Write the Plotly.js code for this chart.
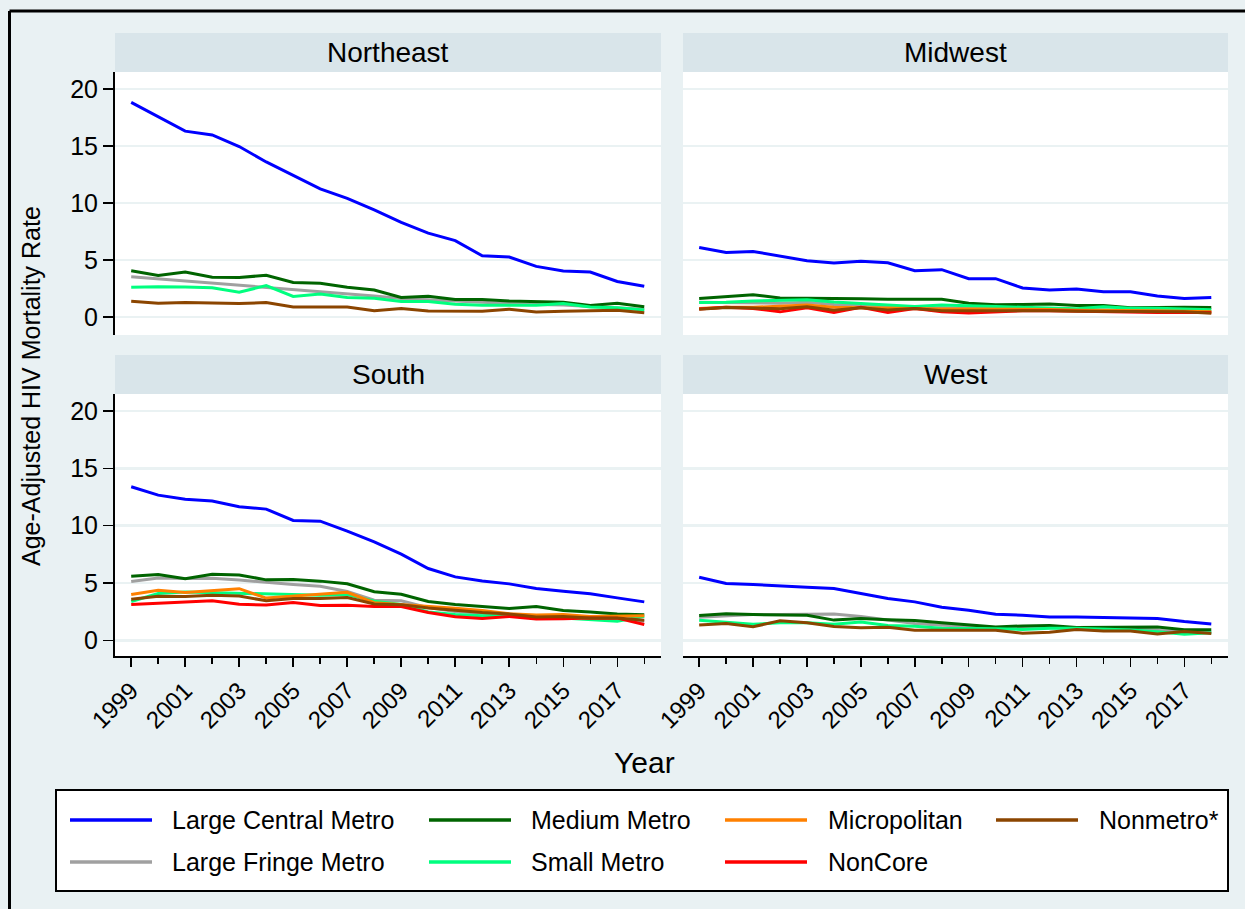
<!DOCTYPE html>
<html>
<head>
<meta charset="utf-8">
<script src="https://cdn.plot.ly/plotly-3.0.1.min.js"></script>
<style>
  html, body { margin: 0; padding: 0; background: #E9F1F3; }
  #chart { width: 1245px; height: 909px; }
</style>
</head>
<body>
<div id="chart"></div>
<script>
// ---------------- DATA ----------------
const years = [1999, 2000, 2001, 2002, 2003, 2004, 2005, 2006, 2007, 2008, 2009, 2010, 2011, 2012, 2013, 2014, 2015, 2016, 2017, 2018];

const seriesNames  = ['Large Central Metro', 'Large Fringe Metro', 'Medium Metro', 'Small Metro', 'Micropolitan', 'NonCore', 'Nonmetro*'];
const seriesColors = ['#0000FF', '#A0A0A0', '#006400', '#00FF7F', '#FF8000', '#FF0000', '#8B4500'];

const regionNames = ['Northeast', 'Midwest', 'South', 'West'];

// Northeast
const northeastLargeCentral = [18.83, 17.6, 16.3, 15.97, 14.95, 13.6, 12.45, 11.24, 10.4, 9.4, 8.3, 7.36, 6.7, 5.37, 5.26, 4.44, 4.03, 3.94, 3.12, 2.69];
const northeastLargeFringe  = [3.53, 3.35, 3.15, 2.97, 2.78, 2.6, 2.42, 2.25, 2.05, 1.85, 1.62, 1.5, 1.38, 1.28, 1.18, 1.1, 1.05, 0.92, 0.82, 0.68];
const northeastMedium       = [4.05, 3.65, 3.95, 3.48, 3.46, 3.66, 3.02, 2.95, 2.61, 2.37, 1.72, 1.81, 1.54, 1.54, 1.4, 1.33, 1.3, 1.01, 1.2, 0.89];
const northeastSmall        = [2.6, 2.65, 2.63, 2.57, 2.18, 2.75, 1.8, 2.02, 1.72, 1.64, 1.35, 1.36, 1.12, 1.02, 1.02, 1.04, 1.19, 0.87, 0.8, 0.62];
const northeastNonmetro     = [1.38, 1.2, 1.26, 1.24, 1.18, 1.27, 0.88, 0.88, 0.88, 0.55, 0.75, 0.52, 0.52, 0.5, 0.68, 0.43, 0.5, 0.57, 0.6, 0.38];

// Midwest
const midwestLargeCentral = [6.1, 5.66, 5.75, 5.37, 4.93, 4.73, 4.88, 4.76, 4.06, 4.15, 3.36, 3.36, 2.54, 2.36, 2.45, 2.22, 2.22, 1.84, 1.63, 1.72];
const midwestLargeFringe  = [1.3, 1.25, 1.2, 1.2, 1.3, 1.1, 1.05, 0.95, 0.8, 0.8, 0.75, 0.75, 0.7, 0.7, 0.65, 0.65, 0.6, 0.6, 0.55, 0.5];
const midwestMedium       = [1.63, 1.81, 1.95, 1.66, 1.66, 1.6, 1.6, 1.55, 1.55, 1.55, 1.21, 1.08, 1.1, 1.14, 1.0, 1.01, 0.82, 0.86, 0.85, 0.83];
const midwestSmall        = [1.28, 1.3, 1.4, 1.46, 1.52, 1.31, 1.17, 1.08, 0.93, 1.05, 1.02, 0.93, 0.85, 0.82, 0.73, 0.9, 0.76, 0.76, 0.7, 0.64];
const midwestMicropolitan = [0.75, 0.85, 0.85, 0.95, 1.05, 0.85, 0.8, 0.8, 0.75, 0.7, 0.7, 0.7, 0.65, 0.65, 0.6, 0.6, 0.55, 0.55, 0.5, 0.45];
const midwestNonCore      = [0.7, 0.85, 0.75, 0.45, 0.8, 0.4, 0.85, 0.4, 0.75, 0.45, 0.35, 0.45, 0.55, 0.55, 0.5, 0.5, 0.45, 0.4, 0.4, 0.4];
const midwestNonmetro     = [0.68, 0.83, 0.78, 0.72, 0.9, 0.6, 0.82, 0.62, 0.75, 0.55, 0.55, 0.55, 0.6, 0.55, 0.5, 0.5, 0.5, 0.45, 0.45, 0.33];

// South
const southLargeCentral = [13.39, 12.66, 12.31, 12.14, 11.64, 11.44, 10.45, 10.39, 9.52, 8.59, 7.51, 6.26, 5.53, 5.18, 4.92, 4.51, 4.28, 4.05, 3.7, 3.35];
const southLargeFringe  = [5.12, 5.44, 5.38, 5.4, 5.25, 5.05, 4.87, 4.72, 4.25, 3.5, 3.45, 2.85, 2.5, 2.35, 2.2, 2.1, 2.0, 1.95, 1.85, 1.65];
const southMedium       = [5.58, 5.73, 5.36, 5.76, 5.7, 5.27, 5.31, 5.16, 4.93, 4.23, 4.01, 3.38, 3.12, 2.94, 2.78, 2.95, 2.6, 2.46, 2.3, 2.22];
const southSmall        = [3.38, 4.08, 4.22, 4.16, 4.1, 4.05, 3.93, 3.93, 3.99, 3.4, 3.12, 2.47, 2.24, 2.13, 2.13, 1.95, 1.95, 1.83, 1.66, 2.1];
const southMicropolitan = [3.99, 4.37, 4.16, 4.3, 4.5, 3.68, 3.84, 4.06, 4.19, 3.28, 3.14, 2.98, 2.8, 2.6, 2.31, 2.21, 2.25, 2.07, 2.1, 2.14];
const southNonCore      = [3.12, 3.23, 3.38, 3.45, 3.14, 3.07, 3.3, 3.03, 3.06, 2.95, 2.95, 2.42, 2.05, 1.89, 2.08, 1.86, 1.87, 1.95, 1.93, 1.37];
const southNonmetro     = [3.58, 3.84, 3.81, 3.93, 3.87, 3.44, 3.64, 3.64, 3.73, 3.17, 3.11, 2.82, 2.62, 2.42, 2.3, 2.04, 2.07, 1.95, 1.95, 1.75];

// West
const westLargeCentral = [5.5, 4.95, 4.86, 4.72, 4.63, 4.51, 4.08, 3.64, 3.35, 2.88, 2.62, 2.27, 2.18, 2.04, 2.04, 2.01, 1.98, 1.89, 1.63, 1.43];
const westLargeFringe  = [2.0, 2.1, 2.24, 2.24, 2.24, 2.3, 2.07, 1.78, 1.46, 1.31, 1.25, 1.1, 1.1, 1.1, 1.02, 1.02, 0.96, 0.85, 0.73, 0.67];
const westMedium       = [2.16, 2.32, 2.24, 2.24, 2.18, 1.76, 1.9, 1.8, 1.72, 1.53, 1.37, 1.17, 1.25, 1.3, 1.12, 1.12, 1.12, 1.16, 0.93, 0.93];
const westSmall        = [1.74, 1.59, 1.4, 1.52, 1.52, 1.4, 1.6, 1.3, 1.22, 1.05, 1.05, 1.0, 0.95, 1.05, 1.05, 1.0, 0.9, 0.75, 0.52, 0.65];
const westNonmetro     = [1.34, 1.46, 1.18, 1.7, 1.52, 1.2, 1.09, 1.14, 0.88, 0.88, 0.91, 0.87, 0.62, 0.7, 0.94, 0.82, 0.82, 0.54, 0.76, 0.6];

const xTickLabels = ['1999', '2001', '2003', '2005', '2007', '2009', '2011', '2013', '2015', '2017'];
const yTickValues = [0, 5, 10, 15, 20];

// series per region, in drawing order (index into seriesNames)
const regionSeries = [
  [[0, northeastLargeCentral], [1, northeastLargeFringe], [2, northeastMedium], [3, northeastSmall], [6, northeastNonmetro]],
  [[0, midwestLargeCentral], [1, midwestLargeFringe], [2, midwestMedium], [3, midwestSmall], [4, midwestMicropolitan], [5, midwestNonCore], [6, midwestNonmetro]],
  [[0, southLargeCentral], [1, southLargeFringe], [2, southMedium], [3, southSmall], [4, southMicropolitan], [5, southNonCore], [6, southNonmetro]],
  [[0, westLargeCentral], [1, westLargeFringe], [2, westMedium], [3, westSmall], [6, westNonmetro]]
];

// ---------------- LAYOUT HELPERS ----------------
const W = 1245, H = 909;
const px = v => v / W;
const py = v => 1 - v / H;
const FONT = '"Liberation Sans", Arial, Helvetica, sans-serif';

// panel pixel boxes
const panels = [
  {x0: 115, x1: 661, y0: 72, y1: 335, h0: 33, yr: [-1.58, 21.49], bottom: false, left: true},
  {x0: 683, x1: 1228, y0: 72, y1: 335, h0: 33, yr: [-1.58, 21.49], bottom: false, left: false},
  {x0: 115, x1: 661, y0: 394, y1: 656, h0: 355, yr: [-1.37, 21.48], bottom: true, left: true},
  {x0: 683, x1: 1228, y0: 394, y1: 656, h0: 355, yr: [-1.37, 21.48], bottom: true, left: false}
];

const traces = [];
regionSeries.forEach((list, r) => {
  const ax = r === 0 ? '' : String(r + 1);
  list.forEach(([si, vals]) => {
    traces.push({
      type: 'scatter', mode: 'lines',
      x: years, y: vals,
      name: seriesNames[si],
      xaxis: 'x' + ax, yaxis: 'y' + ax,
      line: {color: seriesColors[si], width: 3},
      showlegend: false, hoverinfo: 'skip'
    });
  });
});

const layout = {
  width: W, height: H,
  margin: {l: 0, r: 0, t: 0, b: 0},
  paper_bgcolor: '#E9F1F3',
  plot_bgcolor: '#FFFFFF',
  showlegend: false,
  font: {family: FONT, color: '#000000', size: 24},
  shapes: [],
  annotations: []
};

panels.forEach((p, i) => {
  const ax = i === 0 ? '' : String(i + 1);
  layout['xaxis' + ax] = {
    domain: [px(p.x0), px(p.x1)],
    range: [1998.4, 2018.62],
    anchor: 'y' + ax,
    showgrid: false, zeroline: false,
    showline: p.bottom, linecolor: '#000000', linewidth: 2,
    ticks: p.bottom ? 'outside' : '',
    tickvals: p.bottom ? xTickLabels.map(Number) : [],
    ticktext: p.bottom ? xTickLabels : [],
    showticklabels: p.bottom,
    ticklen: 9, tickwidth: 1.5, tickcolor: '#000000',
    tickangle: -45,
    tickfont: {family: FONT, size: 24, color: '#000000'},
    minor: p.bottom ? {tickvals: years, ticks: 'outside', ticklen: 6, tickwidth: 1.5, tickcolor: '#000000', showgrid: false} : undefined,
    fixedrange: true
  };
  layout['yaxis' + ax] = {
    domain: [py(p.y1), py(p.y0)],
    range: p.yr,
    anchor: 'x' + ax,
    showgrid: true, gridcolor: '#EAF2F3', gridwidth: 2.5,
    zeroline: false,
    tickvals: yTickValues,
    showticklabels: p.left,
    ticks: p.left ? 'outside' : '',
    ticklen: 10, tickwidth: 1.5, tickcolor: '#000000',
    showline: p.left, linecolor: '#000000', linewidth: 2,
    tickfont: {family: FONT, size: 25, color: '#000000'},
    fixedrange: true
  };
  // header strip
  layout.shapes.push({
    type: 'rect', xref: 'paper', yref: 'paper',
    x0: px(p.x0), x1: px(p.x1), y0: py(p.y0), y1: py(p.h0),
    fillcolor: '#D9E5EA', line: {width: 0}, layer: 'below'
  });
  layout.annotations.push({
    xref: 'paper', yref: 'paper',
    x: px((p.x0 + p.x1) / 2), y: py((p.h0 + p.y0) / 2),
    text: regionNames[i], showarrow: false,
    xanchor: 'center', yanchor: 'middle',
    font: {family: FONT, size: 28, color: '#000000'}
  });
});

// axis titles
layout.annotations.push({
  xref: 'paper', yref: 'paper', x: px(644), y: py(762),
  text: 'Year', showarrow: false, xanchor: 'center', yanchor: 'middle',
  font: {family: FONT, size: 30, color: '#000000'}
});
layout.annotations.push({
  xref: 'paper', yref: 'paper', x: px(31), y: py(386),
  text: 'Age-Adjusted HIV Mortality Rate', showarrow: false, textangle: -90,
  xanchor: 'center', yanchor: 'middle',
  font: {family: FONT, size: 25, color: '#000000'}
});

// outer frame (top and left edges)
layout.shapes.push({type: 'line', xref: 'paper', yref: 'paper', x0: px(9.5), x1: px(1250), y0: py(11), y1: py(11), line: {color: '#000000', width: 3}});
layout.shapes.push({type: 'line', xref: 'paper', yref: 'paper', x0: px(9.5), x1: px(9.5), y0: py(11), y1: py(915), line: {color: '#000000', width: 3}});

// legend box
layout.shapes.push({
  type: 'rect', xref: 'paper', yref: 'paper',
  x0: px(56), x1: px(1228), y0: py(891), y1: py(790),
  fillcolor: '#FFFFFF', line: {color: '#000000', width: 2}
});
const legLineX = [70, 429, 725, 996];
const legTextX = [170, 529, 826, 1097];
const legRowY = [820, 862];
seriesNames.forEach((name, i) => {
  const col = Math.floor(i / 2), row = i % 2;
  layout.shapes.push({
    type: 'line', xref: 'paper', yref: 'paper',
    x0: px(legLineX[col]), x1: px(legLineX[col] + 82),
    y0: py(legRowY[row]), y1: py(legRowY[row]),
    line: {color: seriesColors[i], width: 3.5}
  });
  layout.annotations.push({
    xref: 'paper', yref: 'paper', x: px(legTextX[col]), y: py(legRowY[row]),
    text: name, showarrow: false, xanchor: 'left', yanchor: 'middle',
    font: {family: FONT, size: 25, color: '#000000'}
  });
});

Plotly.newPlot('chart', traces, layout, {displayModeBar: false, staticPlot: true});
</script>
</body>
</html>
